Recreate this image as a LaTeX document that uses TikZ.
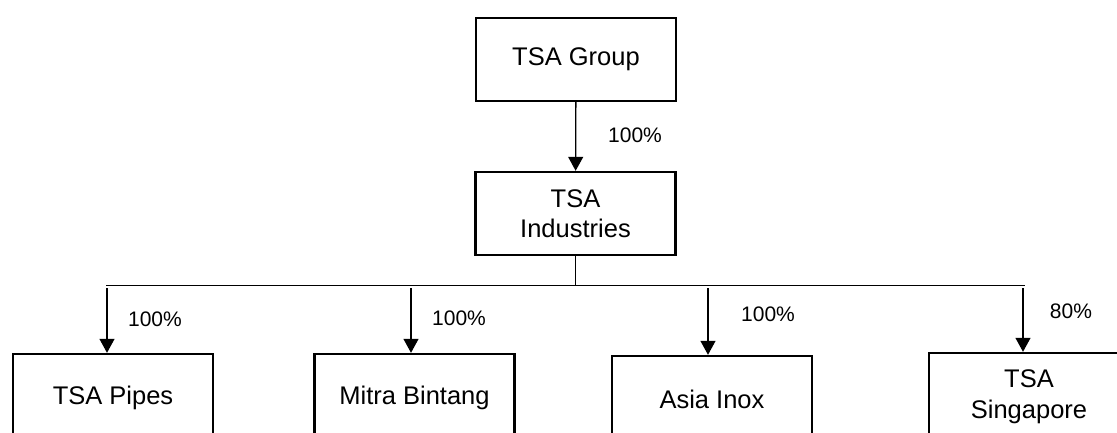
\documentclass[tikz,border=0pt]{standalone}
\usepackage{fontspec}
\setmainfont{Liberation Sans}
\usetikzlibrary{arrows.meta}
\begin{document}
\begin{tikzpicture}[x=1pt,y=-1pt,
  box/.style={draw, line width=2.4pt, minimum width=200pt, inner sep=0pt, align=center,
    font=\fontsize{25.5}{30.5}\selectfont},
  lbl/.style={font=\fontsize{21}{25}\selectfont, inner sep=0pt},
  conn/.style={line width=1.3pt},
  arr/.style={conn, -{Triangle[length=14pt,width=15pt]}}]
\useasboundingbox (0,0) rectangle (1117,432);
\clip (0,0) rectangle (1117,432);
% boxes
\node[box, minimum height=83pt] (grp) at (576,59.5) {TSA Group};
\node[box, minimum height=83pt] (ind) at (575.5,213.5) {TSA\\Industries};
\node[box, minimum height=88pt] (pipes) at (113,398) {TSA Pipes};
\node[box, minimum height=88pt] (mitra) at (414.5,398) {Mitra Bintang};
\node[box, minimum height=86pt] (asia) at (712,399) {Asia Inox};
\node[box, minimum height=87pt] (sing) at (1029,396.5) {TSA\\Singapore};
% connectors
\draw[arr] (grp) -- (ind);
\coordinate (barL) at (106,285.7);
\coordinate (barR) at (1025,285.7);
\draw[conn] (ind.south) -- (ind.south |- barL);
\draw[conn] (barL) -- (barR);
\coordinate (a1) at (107,288);
\coordinate (a2) at (411,288);
\coordinate (a3) at (708,288);
\coordinate (a4) at (1023,288);
\draw[arr] (a1) -- (a1 |- pipes.north);
\draw[arr] (a2) -- (a2 |- mitra.north);
\draw[arr] (a3) -- (a3 |- asia.north);
\draw[arr] (a4) -- (a4 |- sing.north);
% labels
\node[lbl] (l0) at (635,135) {100\%};
\node[lbl] (l1) at (155,319) {100\%};
\node[lbl] (l2) at (459,318) {100\%};
\node[lbl] (l3) at (768,314) {100\%};
\node[lbl] (l4) at (1071,311) {80\%};
\end{tikzpicture}
\end{document}
